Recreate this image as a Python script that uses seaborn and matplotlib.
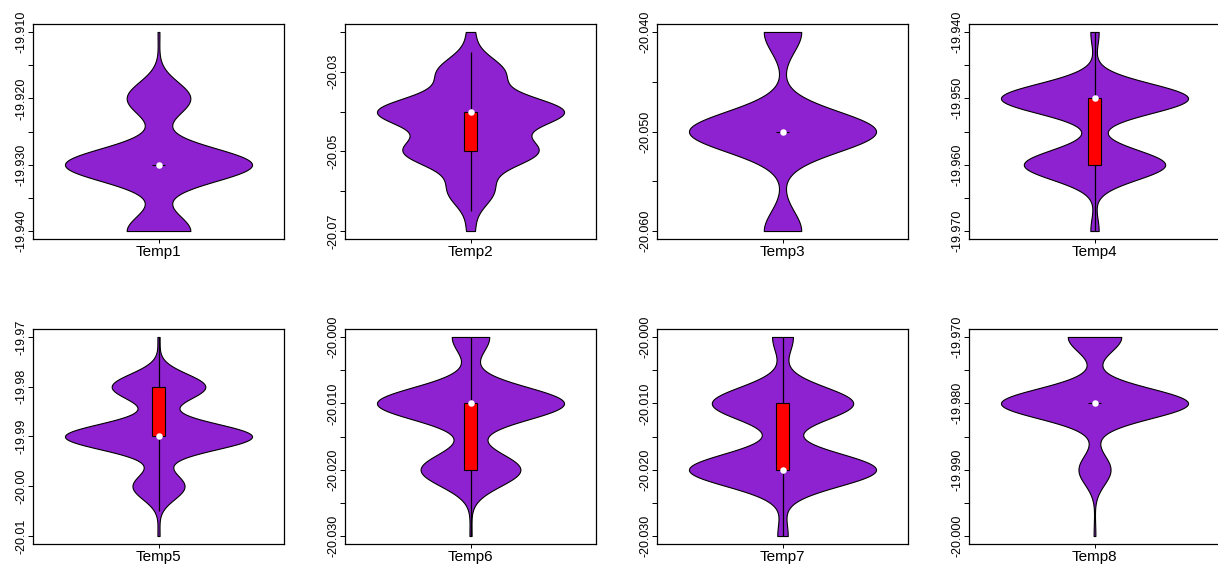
import numpy as np
import pandas as pd
import matplotlib
matplotlib.use("Agg")
import matplotlib.pyplot as plt
import seaborn as sns

# ---------------- data (discrete readings and their counts) ----------------
temp_names = ["Temp1", "Temp2", "Temp3", "Temp4", "Temp5", "Temp6", "Temp7", "Temp8"]

t1_levels = [-19.94, -19.93, -19.92, -19.91]
t1_counts = [34, 100, 34, 1]
t2_levels = [-20.07, -20.06, -20.05, -20.04, -20.03, -20.02]
t2_counts = [3, 17, 50, 70, 25, 3]
t3_levels = [-20.06, -20.05, -20.04]
t3_counts = [26, 130, 26]
t4_levels = [-19.97, -19.96, -19.95, -19.94]
t4_counts = [4, 68, 90, 4]
t5_levels = [-20.01, -20.00, -19.99, -19.98, -19.97]
t5_counts = [1, 25, 90, 45, 1]
t6_levels = [-20.03, -20.02, -20.01, -20.00]
t6_counts = [1, 48, 90, 18]
t7_levels = [-20.03, -20.02, -20.01, -20.00]
t7_counts = [5, 90, 68, 10]
t8_levels = [-20.00, -19.99, -19.98, -19.97]
t8_counts = [1, 18, 105, 30]

# y tick positions and labels for each panel
t1_ticks = [-19.910, -19.915, -19.920, -19.925, -19.930, -19.935, -19.940]
t1_labels = ["-19.910", "", "-19.920", "", "-19.930", "", "-19.940"]
t2_ticks = [-20.02, -20.03, -20.04, -20.05, -20.06, -20.07]
t2_labels = ["", "-20.03", "", "-20.05", "", "-20.07"]
t3_ticks = [-20.040, -20.045, -20.050, -20.055, -20.060]
t3_labels = ["-20.040", "", "-20.050", "", "-20.060"]
t4_ticks = [-19.940, -19.945, -19.950, -19.955, -19.960, -19.965, -19.970]
t4_labels = ["-19.940", "", "-19.950", "", "-19.960", "", "-19.970"]
t5_ticks = [-19.97, -19.98, -19.99, -20.00, -20.01]
t5_labels = ["-19.97", "-19.98", "-19.99", "-20.00", "-20.01"]
t6_ticks = [-20.000, -20.005, -20.010, -20.015, -20.020, -20.025, -20.030]
t6_labels = ["-20.000", "", "-20.010", "", "-20.020", "", "-20.030"]
t7_ticks = [-20.000, -20.005, -20.010, -20.015, -20.020, -20.025, -20.030]
t7_labels = ["-20.000", "", "-20.010", "", "-20.020", "", "-20.030"]
t8_ticks = [-19.970, -19.975, -19.980, -19.985, -19.990, -19.995, -20.000]
t8_labels = ["-19.970", "", "-19.980", "", "-19.990", "", "-20.000"]

all_levels = [t1_levels, t2_levels, t3_levels, t4_levels, t5_levels, t6_levels, t7_levels, t8_levels]
all_counts = [t1_counts, t2_counts, t3_counts, t4_counts, t5_counts, t6_counts, t7_counts, t8_counts]
all_ticks = [t1_ticks, t2_ticks, t3_ticks, t4_ticks, t5_ticks, t6_ticks, t7_ticks, t8_ticks]
all_labels = [t1_labels, t2_labels, t3_labels, t4_labels, t5_labels, t6_labels, t7_labels, t8_labels]

# ---------------- style ----------------
sns.set_style("white")
plt.rcParams["font.family"] = ["Liberation Sans", "DejaVu Sans"]

VIOLIN_COLOR = "#8E22D0"
BOX_COLOR = "#FF0000"

W, H = 1218, 566
fig = plt.figure(figsize=(W / 100, H / 100), dpi=100)

col_left = [33, 345, 657, 969]
row_top = [24, 329]
ax_w, ax_h = 251, 215

for i, name in enumerate(temp_names):
    r, c = divmod(i, 4)
    left = col_left[c] / W
    bottom = 1 - (row_top[r] + ax_h) / H
    ax = fig.add_axes([left, bottom, ax_w / W, ax_h / H])

    vals = np.repeat(np.array(all_levels[i], dtype=float), all_counts[i])
    df = pd.DataFrame({"value": vals})

    sns.violinplot(data=df, y="value", ax=ax, color=VIOLIN_COLOR, saturation=1,
                   cut=0, inner=None, bw_method="silverman", density_norm="width",
                   width=0.805, gridsize=500, linewidth=0.8, linecolor="black")

    q1, med, q3 = np.quantile(vals, [0.25, 0.5, 0.75])
    iqr = q3 - q1
    upper = min(q3 + 1.5 * iqr, vals.max())
    lower = max(q1 - 1.5 * iqr, vals.min())

    ax.vlines(0, lower, upper, color="black", linewidth=0.9, zorder=3)
    ax.bar(0, q3 - q1, bottom=q1, width=0.052, color=BOX_COLOR,
           edgecolor="black", linewidth=0.8, zorder=4)
    ax.scatter([0], [med], s=22, color="white", linewidths=0, zorder=5)

    vmin, vmax = vals.min(), vals.max()
    rng = vmax - vmin
    ax.set_ylim(vmin - 0.04 * rng, vmax + 0.04 * rng)
    ax.set_xlim(-0.54, 0.54)

    ax.set_yticks(all_ticks[i], all_labels[i])
    ax.set_xticks([0], [name])
    ax.set_xlabel("")
    ax.set_ylabel("")

    ax.tick_params(axis="y", which="both", left=True, length=3.6, width=0.7,
                   pad=0.6, labelsize=9, labelrotation=90, colors="black")
    ax.tick_params(axis="x", bottom=True, length=2.6, width=0.7, pad=1.5,
                   labelsize=11, colors="black")
    for lab in ax.get_yticklabels():
        lab.set_va("center")
    for sp in ax.spines.values():
        sp.set_visible(True)
        sp.set_color("black")
        sp.set_linewidth(0.9)

fig.savefig("out.png", dpi=100)
